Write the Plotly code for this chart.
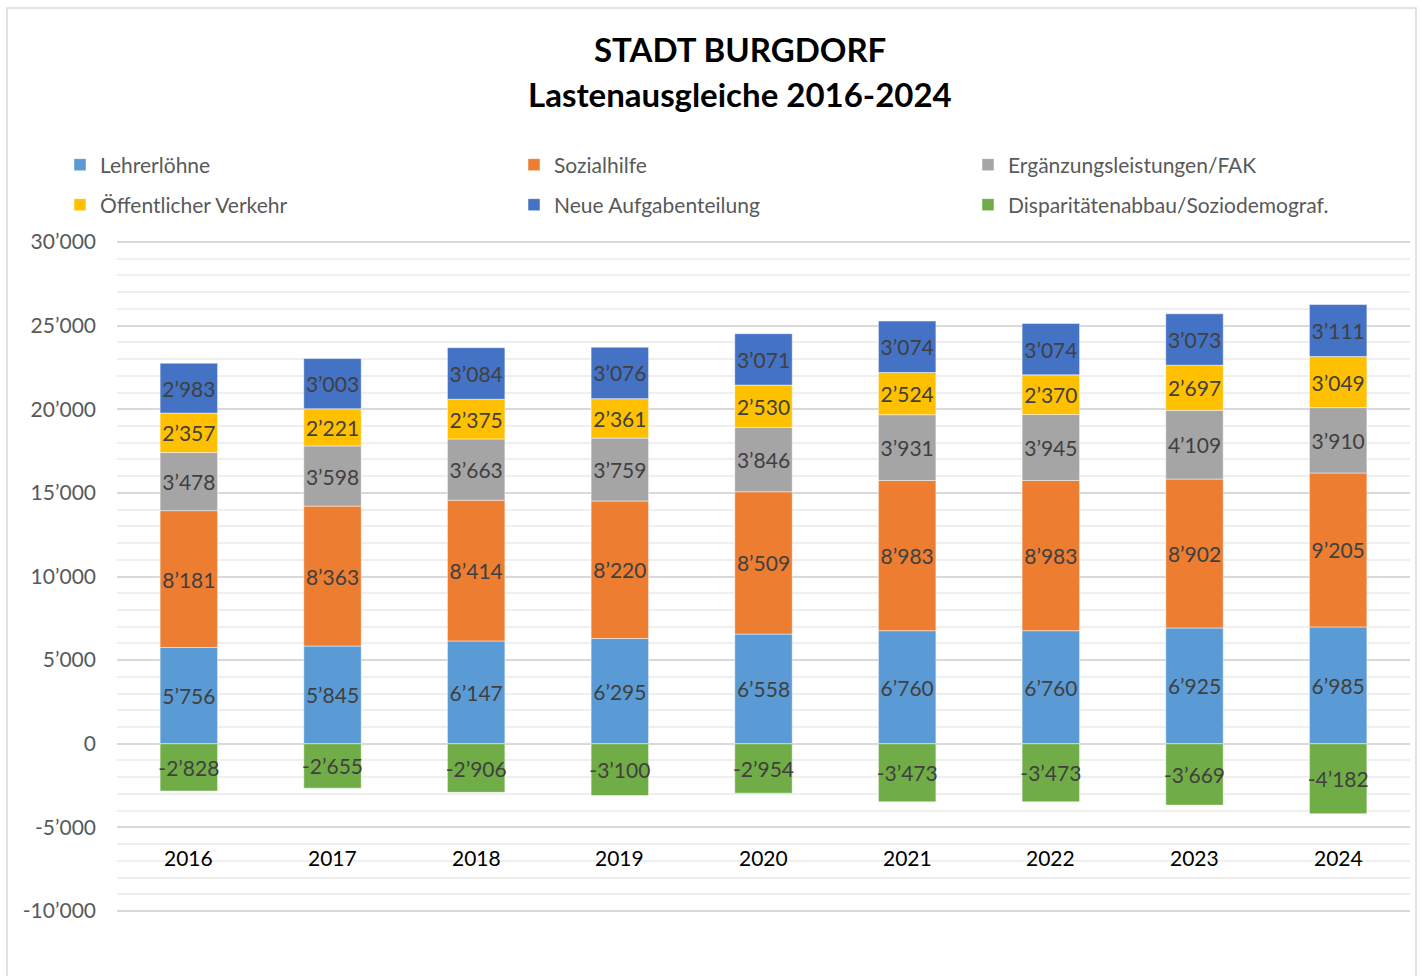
import plotly.graph_objects as go

years = ["2016", "2017", "2018", "2019", "2020", "2021", "2022", "2023", "2024"]

lehrerloehne = [5756, 5845, 6147, 6295, 6558, 6760, 6760, 6925, 6985]
sozialhilfe = [8181, 8363, 8414, 8220, 8509, 8983, 8983, 8902, 9205]
ergaenzung = [3478, 3598, 3663, 3759, 3846, 3931, 3945, 4109, 3910]
oev = [2357, 2221, 2375, 2361, 2530, 2524, 2370, 2697, 3049]
neue_aufgaben = [2983, 3003, 3084, 3076, 3071, 3074, 3074, 3073, 3111]
disparitaet = [-2828, -2655, -2906, -3100, -2954, -3473, -3473, -3669, -4182]

series_names = [
    "Lehrerlöhne",
    "Sozialhilfe",
    "Ergänzungsleistungen/FAK",
    "Öffentlicher Verkehr",
    "Neue Aufgabenteilung",
    "Disparitätenabbau/Soziodemograf.",
]
series_values = [lehrerloehne, sozialhilfe, ergaenzung, oev, neue_aufgaben, disparitaet]
series_colors = ["#5B9BD5", "#ED7D31", "#A5A5A5", "#FFC000", "#4472C4", "#70AD47"]

y_tickvals = [-10000, -5000, 0, 5000, 10000, 15000, 20000, 25000, 30000]
y_ticktext = ["-10’000", "-5’000", "0", "5’000", "10’000", "15’000", "20’000", "25’000", "30’000"]

title_lines = ["STADT BURGDORF", "Lastenausgleiche 2016-2024"]

FONT = "Lato"


def fmt(v):
    return f"{v:,}".replace(",", "’")


# layout geometry (pixels); 30'000 at y=242, -10'000 at y=911
W, H = 1422, 976
PAD_PX = 3
L, R, T, B = 117, 12, 242 - PAD_PX, 65 - PAD_PX
PW = W - L - R
PH = H - T - B
K = 669 / 40000.0  # px per unit
EXT = PAD_PX / K


def px_x(p):
    return (p - L) / PW


def px_y(p):
    return (H - B - p) / PH


fig = go.Figure()
for i, (name, vals, col) in enumerate(zip(series_names, series_values, series_colors)):
    fig.add_trace(
        go.Bar(
            x=years,
            y=vals,
            name=name,
            marker=dict(color=col, line=dict(color="rgba(255,255,255,0.6)", width=0.8)),
            text=[fmt(v) for v in vals],
            textposition="inside",
            insidetextanchor="middle",
            textangle=0,
            constraintext="none",
            textfont=dict(family=FONT, size=21, color="#404040"),
            legend="legend" if i < 3 else "legend2",
            hoverinfo="skip",
        )
    )

annotations = []
for idx, yr in enumerate(years):
    annotations.append(
        dict(
            x=idx, y=-6816, xref="x", yref="y", text=yr, showarrow=False,
            font=dict(family=FONT, size=21, color="#000000"),
            xanchor="center", yanchor="middle",
        )
    )
for txt, py in zip(title_lines, [49, 94]):
    annotations.append(
        dict(
            x=px_x(740), y=px_y(py), xref="paper", yref="paper", text=f"<b>{txt}</b>",
            showarrow=False, font=dict(family=FONT, size=33, color="#000000"),
            xanchor="center", yanchor="middle",
        )
    )

legend_common = dict(
    orientation="h",
    x=px_x(95),
    xanchor="left",
    yanchor="middle",
    entrywidth=409,
    entrywidthmode="pixels",
    font=dict(family=FONT, size=21, color="#595959"),
    bgcolor="rgba(0,0,0,0)",
    itemclick=False,
)

fig.update_layout(
    width=W,
    height=H,
    margin=dict(l=L, r=R, t=T, b=B, pad=0),
    paper_bgcolor="white",
    plot_bgcolor="white",
    barmode="relative",
    bargap=0.6,
    showlegend=True,
    legend=dict(y=px_y(165), **legend_common),
    legend2=dict(y=px_y(205), **legend_common),
    annotations=annotations,
    font=dict(family=FONT),
    xaxis=dict(
        type="category",
        range=[-0.5, 8.5],
        showticklabels=False,
        showgrid=False,
        showline=False,
        zeroline=False,
        ticks="",
        fixedrange=True,
    ),
    yaxis=dict(
        range=[-10000 - EXT, 30000 + EXT],
        tickvals=y_tickvals,
        ticktext=y_ticktext,
        ticks="",
        ticklabelstandoff=20,
        tickfont=dict(family=FONT, size=21, color="#595959"),
        showgrid=True,
        gridcolor="#D9D9D9",
        gridwidth=1.8,
        zeroline=True,
        zerolinecolor="#D9D9D9",
        zerolinewidth=1.8,
        showline=False,
        fixedrange=True,
        minor=dict(dtick=1000, tick0=0, showgrid=True, gridcolor="#EFEFEF", gridwidth=1.5, ticks=""),
    ),
    shapes=[
        dict(
            type="rect", xref="paper", yref="paper",
            x0=px_x(7), x1=px_x(1416), y0=px_y(990), y1=px_y(8),
            line=dict(color="#D9D9D9", width=1.5), fillcolor="rgba(0,0,0,0)", layer="below",
        )
    ],
)

fig.write_html(
    "out.html",
    config={"displayModeBar": False},
    post_script="document.body.style.margin='0';document.body.style.overflow='hidden';",
)
